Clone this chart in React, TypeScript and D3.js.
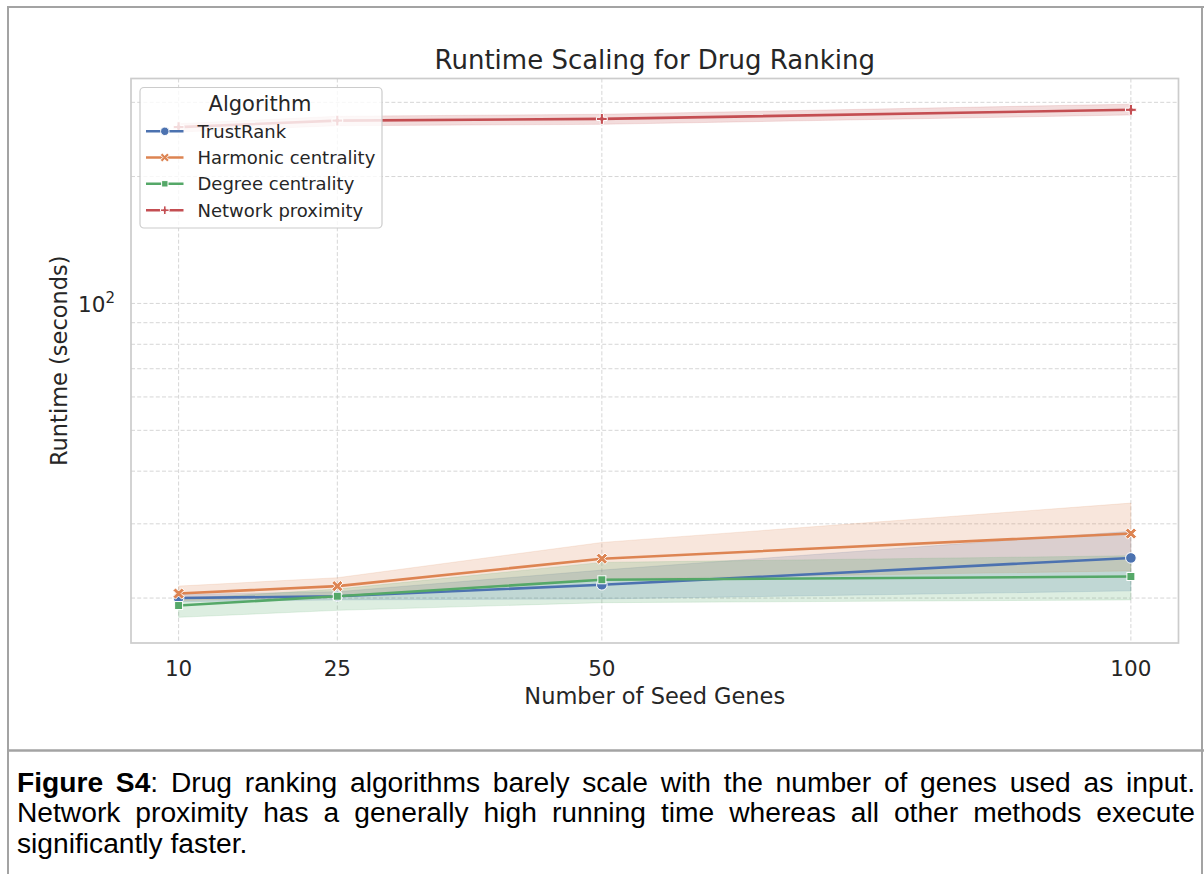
import React, { useLayoutEffect, useRef, useState } from 'react';
import * as d3 from 'd3';

// ---------- data ----------
const seedGenes = [10, 25, 50, 100];
const algorithms = ['TrustRank', 'Harmonic centrality', 'Degree centrality', 'Network proximity'];

const trustRankMean = [20.0, 20.2, 21.5, 24.9];
const trustRankLow = [19.6, 19.8, 19.9, 20.8];
const trustRankHigh = [20.4, 20.7, 23.3, 28.8];

const harmonicMean = [20.5, 21.35, 24.8, 28.45];
const harmonicLow = [19.7, 20.2, 22.2, 23.2];
const harmonicHigh = [21.35, 22.35, 27.1, 33.6];

const degreeMean = [19.2, 20.2, 22.1, 22.5];
const degreeLow = [18.0, 18.7, 19.5, 19.8];
const degreeHigh = [19.9, 21.0, 24.3, 25.2];

const proximityMean = [262, 271.5, 274, 288];
const proximityLow = [255, 264, 266, 280];
const proximityHigh = [267, 278, 281, 297];

const xTicks = [10, 25, 50, 100];
const yMajorTicks = [100];
const yMinorTicks = [20, 30, 40, 50, 60, 70, 80, 90, 200, 300];

const palette = ['#4C72B0', '#DD8452', '#55A868', '#C44E52'];
const markerTypes = ['circle', 'x', 'square', 'plus'];

const title = 'Runtime Scaling for Drug Ranking';
const xLabel = 'Number of Seed Genes';
const yLabel = 'Runtime (seconds)';
const legendTitle = 'Algorithm';

const captionBold = 'Figure S4';
const captionLine1 = ': Drug ranking algorithms barely scale with the number of genes used as input.';
const captionLine2 = 'Network proximity has a generally high running time whereas all other methods execute';
const captionLine3 = 'significantly faster.';

const series = [
  { name: algorithms[0], mean: trustRankMean, low: trustRankLow, high: trustRankHigh },
  { name: algorithms[1], mean: harmonicMean, low: harmonicLow, high: harmonicHigh },
  { name: algorithms[2], mean: degreeMean, low: degreeLow, high: degreeHigh },
  { name: algorithms[3], mean: proximityMean, low: proximityLow, high: proximityHigh },
];

// ---------- layout ----------
const W = 1204;
const H = 874;
const plot = { left: 131, right: 1178.5, top: 78.5, bottom: 643 };
const chartFont = '"DejaVu Sans", Verdana, sans-serif';
const textColor = '#262626';
const captionFont = '"Liberation Sans", Arial, sans-serif';
const captionSize = 28.2;

function crossPoly(s: number, t: number, rot: number) {
  const pts = [
    [-t, -s], [t, -s], [t, -t], [s, -t], [s, t], [t, t],
    [t, s], [-t, s], [-t, t], [-s, t], [-s, -t], [-t, -t],
  ];
  const c = Math.cos(rot), sn = Math.sin(rot);
  return 'M' + pts.map(([x, y]) => `${x * c - y * sn},${x * sn + y * c}`).join('L') + 'Z';
}

function Marker({ type, cx, cy, color, scale = 1 }: any) {
  const common = { fill: color, stroke: '#ffffff', strokeWidth: 1 };
  if (type === 'circle') return <circle cx={cx} cy={cy} r={5.3 * scale} {...common} />;
  if (type === 'square') {
    const s = 8 * scale;
    return <rect x={cx - s / 2} y={cy - s / 2} width={s} height={s} {...common} />;
  }
  if (type === 'x') return <path transform={`translate(${cx},${cy})`} d={crossPoly(6.2 * scale, 1.8 * scale, Math.PI / 4)} {...common} />;
  return <path transform={`translate(${cx},${cy})`} d={crossPoly(5.4 * scale, 1.6 * scale, 0)} {...common} />;
}

function JustifiedText({ x, y, width, justify, children, style }: any) {
  const ref = useRef<SVGTextElement>(null);
  const [ws, setWs] = useState(0);
  useLayoutEffect(() => {
    if (!justify || !ref.current) return;
    const el = ref.current;
    el.style.wordSpacing = '0px';
    const natural = el.getComputedTextLength();
    const spaces = (el.textContent || '').split(' ').length - 1;
    if (spaces > 0) setWs(Math.max(0, (width - natural) / spaces));
  }, [justify, width]);
  return (
    <text ref={ref} x={x} y={y} style={{ ...style, wordSpacing: `${ws}px` }}>
      {children}
    </text>
  );
}

export default function App() {
  const allX = seedGenes;
  const xPad = (d3.max(allX)! - d3.min(allX)!) * 0.05;
  const x = d3.scaleLinear()
    .domain([d3.min(allX)! - xPad, d3.max(allX)! + xPad])
    .range([plot.left, plot.right]);

  const allY = series.flatMap((s) => [...s.low, ...s.high, ...s.mean]);
  const lMin = Math.log10(d3.min(allY)!);
  const lMax = Math.log10(d3.max(allY)!);
  const lPad = (lMax - lMin) * 0.05;
  const y = d3.scaleLog()
    .domain([Math.pow(10, lMin - lPad), Math.pow(10, lMax + lPad)])
    .range([plot.bottom, plot.top]);

  const line = d3.line<number>()
    .x((_, i) => x(seedGenes[i]))
    .y((d) => y(d));

  const bandGen = (s: any) =>
    d3.area<number>()
      .x((_, i) => x(seedGenes[i]))
      .y0((_, i) => y(s.low[i]))
      .y1((_, i) => y(s.high[i]))(s.mean);

  const legend = { x: 140, y: 87.5, w: 242, h: 140.5 };
  const legendRows = [131.3, 157.5, 183.8, 210.2];

  return (
    <svg width={W} height={H} style={{ position: 'absolute', left: 0, top: 0, background: '#ffffff' }}>
      <rect x={0} y={0} width={W} height={H} fill="#ffffff" />

      {/* outer document frame */}
      <line x1={8} y1={7} x2={8} y2={H} stroke="#a3a3a3" strokeWidth={2} />
      <line x1={7} y1={7} x2={W} y2={7} stroke="#a3a3a3" strokeWidth={2} />
      <line x1={1202} y1={7} x2={1202} y2={H} stroke="#a3a3a3" strokeWidth={2} />
      <line x1={7} y1={750.5} x2={W} y2={750.5} stroke="#a3a3a3" strokeWidth={2.5} />

      {/* title */}
      <text x={(plot.left + plot.right) / 2} y={68.5} textAnchor="middle"
        style={{ fontFamily: chartFont, fontSize: 26, fill: textColor }}>{title}</text>

      {/* gridlines */}
      <g stroke="#d6d6d6" strokeWidth={1} strokeDasharray="4,2.2" fill="none">
        {[...yMinorTicks, ...yMajorTicks].map((v) => (
          <line key={'gy' + v} x1={plot.left} x2={plot.right} y1={y(v)} y2={y(v)} />
        ))}
        {xTicks.map((v) => (
          <line key={'gx' + v} x1={x(v)} x2={x(v)} y1={plot.top} y2={plot.bottom} />
        ))}
      </g>

      {/* bands */}
      <g>
        {series.map((s, i) => (
          <path key={'b' + i} d={bandGen(s) || ''} fill={palette[i]} fillOpacity={0.2}
            stroke={palette[i]} strokeOpacity={0.15} strokeWidth={1} />
        ))}
      </g>

      {/* lines and markers */}
      {series.map((s, i) => (
        <g key={'l' + i}>
          <path d={line(s.mean) || ''} fill="none" stroke={palette[i]} strokeWidth={2.6} strokeLinejoin="round" />
          {s.mean.map((v, j) => (
            <Marker key={j} type={markerTypes[i]} cx={x(seedGenes[j])} cy={y(v)} color={palette[i]} />
          ))}
        </g>
      ))}

      {/* frame */}
      <rect x={plot.left} y={plot.top} width={plot.right - plot.left} height={plot.bottom - plot.top}
        fill="none" stroke="#cccccc" strokeWidth={1.7} />

      {/* x tick labels */}
      {xTicks.map((v) => (
        <text key={'tx' + v} x={x(v)} y={676} textAnchor="middle"
          style={{ fontFamily: chartFont, fontSize: 21.5, fill: textColor }}>{v}</text>
      ))}

      {/* y tick labels */}
      {yMajorTicks.map((v) => (
        <text key={'ty' + v} x={plot.left - 16} y={y(v) + 8.5} textAnchor="end"
          style={{ fontFamily: chartFont, fontSize: 21.5, fill: textColor }}>
          {'10'}
          <tspan dy={-9} style={{ fontSize: 15 }}>{String(Math.round(Math.log10(v)))}</tspan>
        </text>
      ))}

      {/* axis labels */}
      <text x={(plot.left + plot.right) / 2} y={704} textAnchor="middle"
        style={{ fontFamily: chartFont, fontSize: 22.5, fill: textColor }}>{xLabel}</text>
      <text transform={`translate(67,${(plot.top + plot.bottom) / 2}) rotate(-90)`} textAnchor="middle"
        style={{ fontFamily: chartFont, fontSize: 22.5, fill: textColor }}>{yLabel}</text>

      {/* legend */}
      <g>
        <rect x={legend.x} y={legend.y} width={legend.w} height={legend.h} rx={4}
          fill="#ffffff" fillOpacity={0.8} stroke="#cccccc" strokeWidth={1.2} />
        <text x={legend.x + legend.w / 2 - 1} y={110.5} textAnchor="middle"
          style={{ fontFamily: chartFont, fontSize: 21, fill: textColor }}>{legendTitle}</text>
        {series.map((s, i) => (
          <g key={'lg' + i}>
            <line x1={146} x2={183.5} y1={legendRows[i]} y2={legendRows[i]} stroke={palette[i]} strokeWidth={2.4} />
            <Marker type={markerTypes[i]} cx={164.8} cy={legendRows[i]} color={palette[i]} scale={0.8} />
            <text x={197.5} y={legendRows[i] + 6.3}
              style={{ fontFamily: chartFont, fontSize: 18, fill: textColor }}>{s.name}</text>
          </g>
        ))}
      </g>

      {/* caption */}
      <JustifiedText x={17} y={792} width={1178} justify={true}
        style={{ fontFamily: captionFont, fontSize: captionSize, fill: '#000000' }}>
        <tspan style={{ fontWeight: 'bold' }}>{captionBold}</tspan>
        {captionLine1}
      </JustifiedText>
      <JustifiedText x={17} y={822} width={1178} justify={true}
        style={{ fontFamily: captionFont, fontSize: captionSize, fill: '#000000' }}>
        {captionLine2}
      </JustifiedText>
      <JustifiedText x={17} y={853} width={1178} justify={false}
        style={{ fontFamily: captionFont, fontSize: captionSize, fill: '#000000' }}>
        {captionLine3}
      </JustifiedText>
    </svg>
  );
}
